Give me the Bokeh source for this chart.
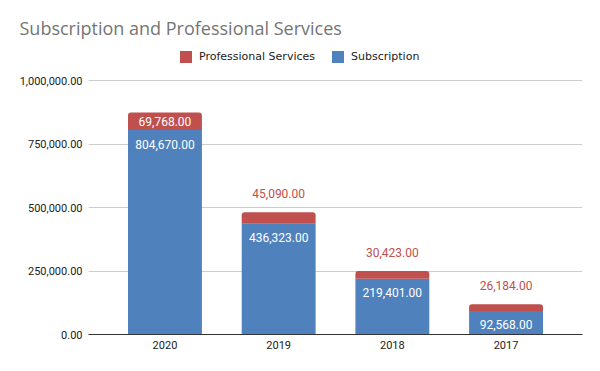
from bokeh.plotting import figure
from bokeh.models import ColumnDataSource, FactorRange, Range1d, FixedTicker, NumeralTickFormatter, Legend, LegendItem
from bokeh.core.properties import value
from bokeh.embed import file_html
from bokeh.resources import INLINE

years = ["2020", "2019", "2018", "2017"]
subscription = [804670, 436323, 219401, 92568]
professional = [69768, 45090, 30423, 26184]
y_ticks = [0, 250000, 500000, 750000, 1000000]

BLUE = "#4f81bd"
RED = "#c0504d"

# layout: frame from y=40 to y=334 px, axis max tick (1M) drawn at y=80 px
FRAME_TOP, TICK_TOP, FRAME_BOTTOM = 40, 80, 334
y_max = y_ticks[-1] * (FRAME_BOTTOM - FRAME_TOP) / (FRAME_BOTTOM - TICK_TOP)

total = [s + p for s, p in zip(subscription, professional)]
inside = [p > 60000 for p in professional]
src = ColumnDataSource(dict(
    x=years, sub=subscription, pro=professional, total=total,
    sub_lbl=[f"{v:,.2f}" for v in subscription],
    pro_lbl=[f"{v:,.2f}" for v in professional],
    pro_y=[(s + p / 2) if ins else t for s, p, t, ins in zip(subscription, professional, total, inside)],
    pro_off=[0 if ins else -19 for ins in inside],
    pro_col=["white" if ins else RED for ins in inside],
))

p = figure(width=592, height=363, output_backend="svg", toolbar_location=None,
           x_range=FactorRange(*years, range_padding=0.1725, range_padding_units="absolute"),
           y_range=Range1d(0, y_max),
           min_border_left=88, min_border_right=10, min_border_top=FRAME_TOP, min_border_bottom=29)
p.outline_line_color = None
p.background_fill_color = "white"

p.title.text = "Subscription and Professional Services"
p.title.text_font = "Open Sans"
p.title.text_font_size = "18px"
p.title.text_font_style = "normal"
p.title.text_color = "#757575"
p.title.align = "left"
p.title.offset = -69
p.title.standoff = 1

r_sub = p.vbar(x="x", top="sub", bottom=0, width=0.65, source=src, color=BLUE, line_color=None)
r_pro = p.vbar(x="x", top="total", bottom="sub", width=0.65, source=src, color=RED, line_color=None,
               border_radius=[3, 3, 0, 0])

p.text(x="x", y="pro_y", text="pro_lbl", source=src, y_offset="pro_off", text_color="pro_col",
       text_align="center", text_baseline="middle", text_font=value("Roboto"), text_font_size="12px")
p.text(x="x", y="sub", text="sub_lbl", source=src, y_offset=14, text_color="white",
       text_align="center", text_baseline="middle", text_font=value("Roboto"), text_font_size="12px")

p.yaxis.ticker = FixedTicker(ticks=y_ticks)
p.yaxis.formatter = NumeralTickFormatter(format="0,0.00")
p.yaxis.axis_line_color = None
p.yaxis.major_tick_line_color = None
p.yaxis.minor_tick_line_color = None
p.yaxis.major_tick_out = 0
p.yaxis.major_tick_in = 0
p.yaxis.major_label_standoff = 6
p.yaxis.major_label_text_font = "Roboto"
p.yaxis.major_label_text_font_size = "11px"
p.yaxis.major_label_text_color = "#222222"

p.xaxis.axis_line_color = "#333333"
p.xaxis.axis_line_width = 1
p.xaxis.major_tick_line_color = None
p.xaxis.minor_tick_line_color = None
p.xaxis.major_tick_out = 0
p.xaxis.major_tick_in = 0
p.xaxis.major_label_standoff = 6
p.xaxis.major_label_text_font = "Roboto"
p.xaxis.major_label_text_font_size = "11px"
p.xaxis.major_label_text_color = "#222222"

p.xgrid.grid_line_color = None
p.ygrid.grid_line_color = "#cccccc"
p.ygrid.ticker = FixedTicker(ticks=y_ticks)

legend = Legend(items=[LegendItem(label="Professional Services", renderers=[r_pro]),
                       LegendItem(label="Subscription", renderers=[r_sub])],
                orientation="horizontal", location=(90, 270), padding=0, margin=0,
                spacing=15, glyph_width=15, glyph_height=15, label_standoff=6,
                label_text_font="DejaVu Sans", label_text_font_size="11px",
                label_text_color="#222222", border_line_color=None,
                background_fill_alpha=0)
p.add_layout(legend, "center")

open("out.html", "w").write(file_html(p, INLINE))
